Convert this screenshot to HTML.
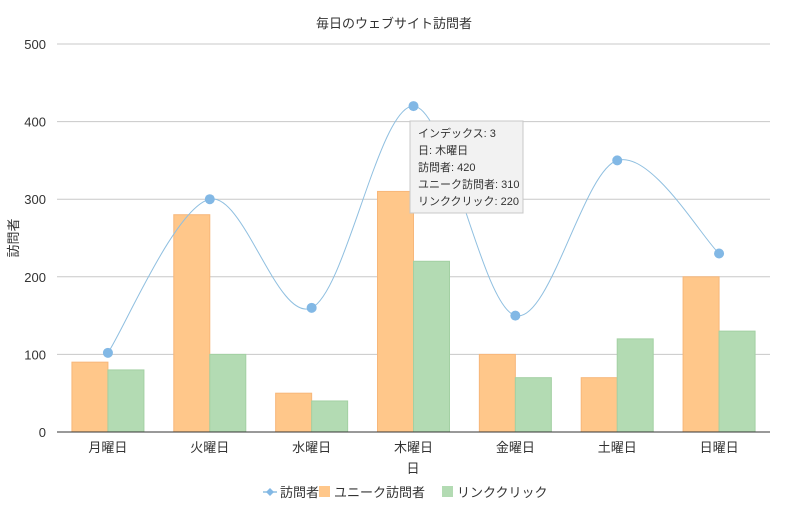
<!DOCTYPE html>
<html><head><meta charset="utf-8">
<style>
body{margin:0;background:#fff;font-family:"Liberation Sans","Noto Sans CJK JP",sans-serif;}
svg text{font-family:"Liberation Sans","Noto Sans CJK JP",sans-serif;}
</style></head>
<body>
<svg id="chart" width="789" height="510" viewBox="0 0 789 510" xmlns="http://www.w3.org/2000/svg">
<text x="394" y="28" text-anchor="middle" font-size="13" fill="#333">毎日のウェブサイト訪問者</text>
<g id="grid"></g>
<g id="bars"></g>
<g id="line"></g>
<g id="xaxis"></g>
<text x="413" y="473" text-anchor="middle" font-size="13" fill="#333">日</text>
<text transform="translate(18,238) rotate(-90)" text-anchor="middle" font-size="13" fill="#333">訪問者</text>
<g>
<rect x="410" y="121" width="113" height="92" fill="#f2f2f2" stroke="#c8c8c8"/>
<text x="418" y="137" font-size="11" fill="#333">インデックス: 3</text>
<text x="418" y="154" font-size="11" fill="#333">日: 木曜日</text>
<text x="418" y="171" font-size="11" fill="#333">訪問者: 420</text>
<text x="418" y="188" font-size="11" fill="#333">ユニーク訪問者: 310</text>
<text x="418" y="205" font-size="11" fill="#333">リンククリック: 220</text>
</g>
<g>
<g>
<line x1="263" y1="492" x2="277" y2="492" stroke="#8fbfe0" stroke-width="1.5"/>
<path d="M270 488 L274 492 L270 496 L266 492Z" fill="#82b8e5"/>
<text x="280" y="497" font-size="13" fill="#333">訪問者</text></g>
<g>
<rect x="319" y="486" width="11" height="11" fill="#ffc78a"/>
<text x="334" y="497" font-size="13" fill="#333">ユニーク訪問者</text></g>
<g>
<rect x="442" y="486" width="11" height="11" fill="#b3dbb3"/>
<text x="457" y="497" font-size="13" fill="#333">リンククリック</text></g>
</g>
</svg>
<script>
const categories=["月曜日","火曜日","水曜日","木曜日","金曜日","土曜日","日曜日"];
const visitors=[102,300,160,420,150,350,230];
const uniqueVisitors=[90,280,50,310,100,70,200];
const linkClicks=[80,100,40,220,70,120,130];
const yTicks=[0,100,200,300,400,500];
const NS="http://www.w3.org/2000/svg";
const L=57,R=770,T=44,B=432,yMax=500;
const bw=(R-L)/categories.length;
const y=v=>B-(v/yMax)*(B-T);
const xc=i=>L+bw*(i+0.5);
function mk(tag,attrs,parent){const e=document.createElementNS(NS,tag);for(const k in attrs)e.setAttribute(k,attrs[k]);parent.appendChild(e);return e;}
const grid=document.getElementById('grid');
yTicks.forEach(t=>{
 if(t>0){const l=mk('line',{x1:L,x2:R,y1:y(t),y2:y(t),stroke:'#c8c8c8'},grid);
 
 }
 const tx=mk('text',{x:46,y:y(t)+5,'text-anchor':'end','font-size':13,fill:'#333'},grid);tx.textContent=t;
 
 
});
const bars=document.getElementById('bars');
const w=36;
categories.forEach((c,i)=>{
 const a=mk('rect',{x:xc(i)-w,y:y(uniqueVisitors[i]),width:w,height:B-y(uniqueVisitors[i]),fill:'#ffc78a',stroke:'#f7b77a'},bars);
 
 
 const b=mk('rect',{x:xc(i),y:y(linkClicks[i]),width:w,height:B-y(linkClicks[i]),fill:'#b3dbb3',stroke:'#a3d0a3'},bars);
 
 
});
const xa=document.getElementById('xaxis');
const ax=mk('line',{x1:L,x2:R,y1:B,y2:B,stroke:'#333'},xa);


categories.forEach((c,i)=>{
 const t=mk('text',{x:xc(i),y:452,'text-anchor':'middle','font-size':13,fill:'#333'},xa);t.textContent=c;
 
 
});
const lg=document.getElementById('line');
const pts=visitors.map((v,i)=>[xc(i),y(v)]);
let d='M'+pts[0][0]+' '+pts[0][1];
for(let i=0;i<pts.length-1;i++){
 const p0=pts[Math.max(0,i-1)],p1=pts[i],p2=pts[i+1],p3=pts[Math.min(pts.length-1,i+2)];
 const c1=[p1[0]+(p2[0]-p0[0])/6,p1[1]+(p2[1]-p0[1])/6];
 const c2=[p2[0]-(p3[0]-p1[0])/6,p2[1]-(p3[1]-p1[1])/6];
 d+=` C${c1[0]} ${c1[1]} ${c2[0]} ${c2[1]} ${p2[0]} ${p2[1]}`;
}
const path=mk('path',{d:d,fill:'none',stroke:'#8fbfe0','stroke-width':1},lg);


pts.forEach((p,i)=>{
 const c=mk('circle',{cx:p[0],cy:p[1],r:5,fill:'#82b8e5'},lg);
 
 
});
</script>
</body></html>
